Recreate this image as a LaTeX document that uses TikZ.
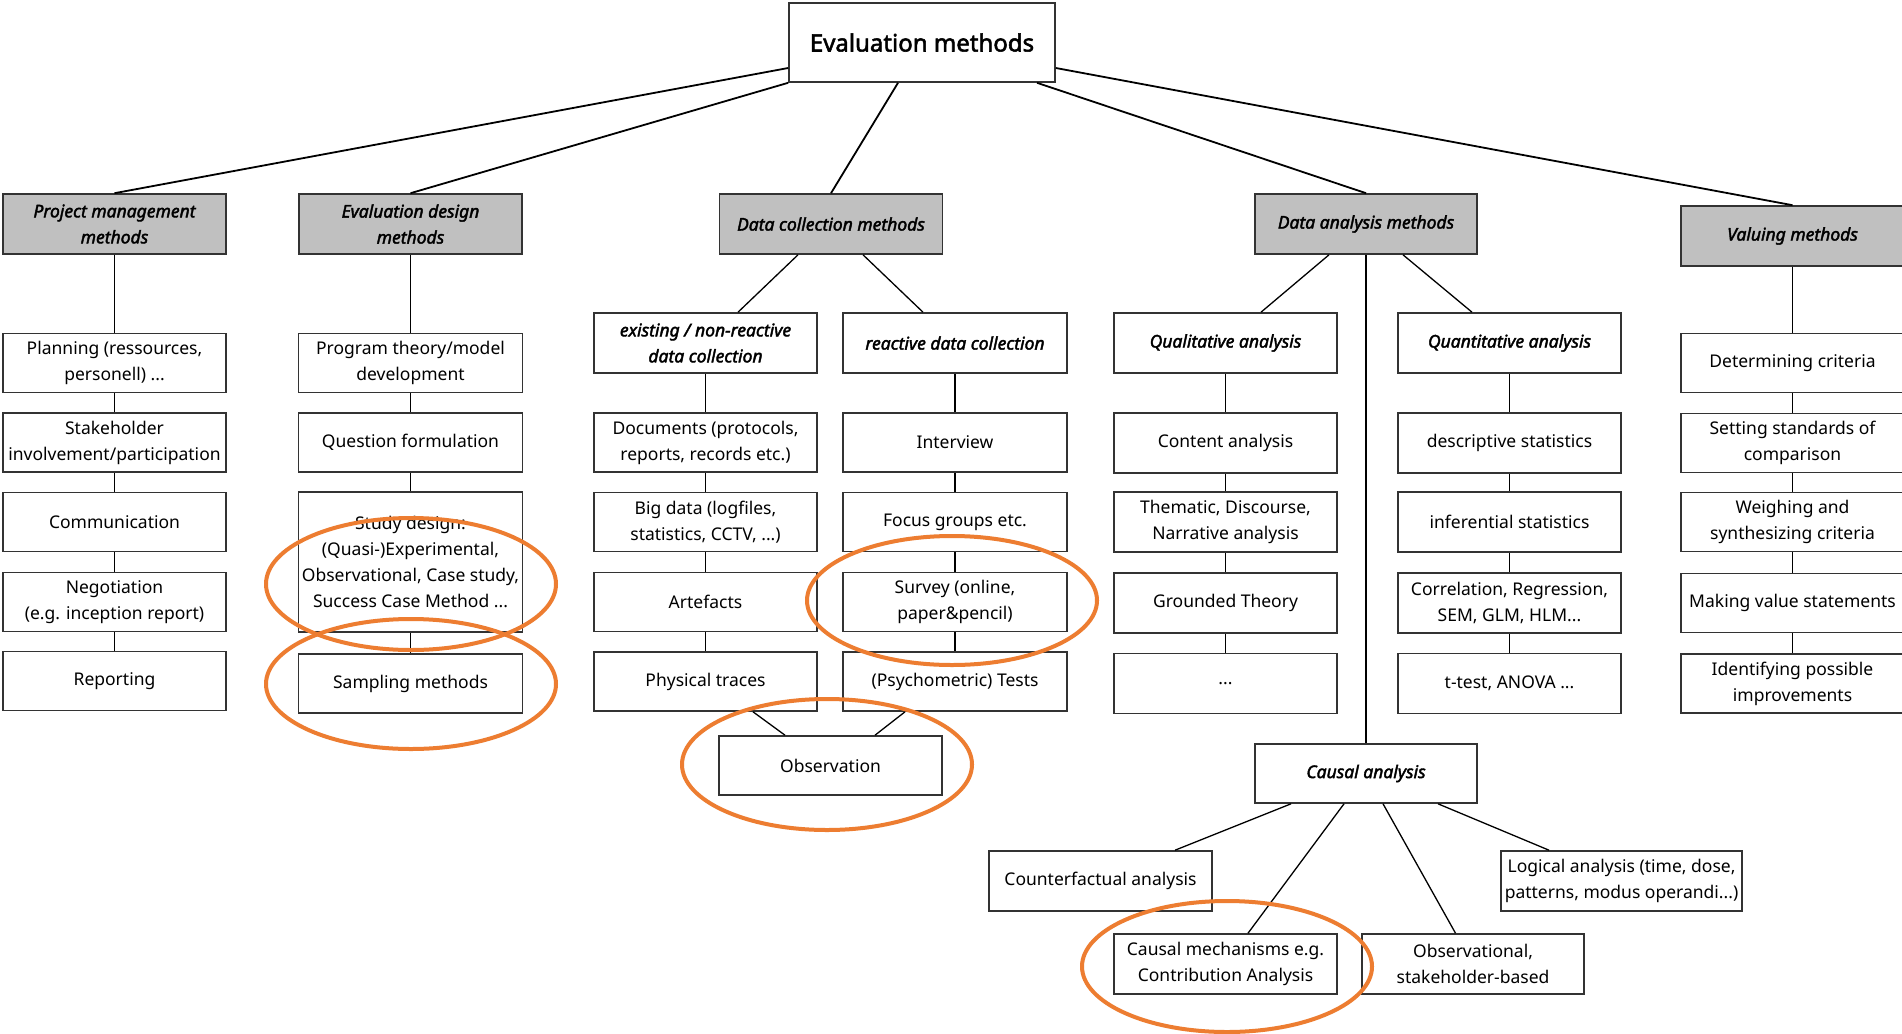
\documentclass[tikz,border=0pt]{standalone}
\usepackage{fontspec}
\setmainfont{Noto Sans}
\newfontfamily\headfont{Noto Sans}[FakeBold=2.2]
\definecolor{edge}{HTML}{333333}
\definecolor{headfill}{HTML}{C0C0C0}
\definecolor{mark}{HTML}{ED7D31}
\begin{document}
\begin{tikzpicture}[x=1pt,y=-1pt,
  item/.style={draw=edge,line width=1.6pt,fill=white,align=center,inner sep=0pt,
    minimum width=223pt,minimum height=59pt,font=\fontsize{17.5}{26}\selectfont},
  head/.style={item,fill=headfill,font=\headfont\fontsize{17.5}{26}\selectfont\itshape},
  subhead/.style={item,font=\headfont\fontsize{17.5}{26}\selectfont\itshape},
  link/.style={draw=black,line width=1.3pt},
  toplink/.style={draw=black,line width=1.8pt},
  ring/.style={draw=mark,line width=4pt}]
\fill[white] (0,0) rectangle (1902,1033);
\useasboundingbox (0,0) rectangle (1902,1033);

% root
\node[item,minimum width=266pt,minimum height=79pt,font=\headfont\fontsize{24}{30}\selectfont] (root) at (922,42.5) {Evaluation methods};

% method families
\node[head,minimum height=60pt] (pm) at (114.5,224) {Project management\\methods};
\node[head,minimum height=60pt] (ed) at (410.5,224) {Evaluation design\\methods};
\node[head,minimum height=60pt] (dc) at (831,224) {Data collection methods};
\node[head,minimum height=60pt,minimum width=222pt] (da) at (1366,224) {Data analysis methods};
\node[head,minimum height=60pt] (val) at (1792.5,236) {Valuing methods};

\draw[toplink] ([yshift=-25.5pt]root.west) -- (pm.north);
\draw[toplink] (root.south west) -- (ed.north);
\draw[toplink] ([xshift=-24pt]root.south) -- (dc.north);
\draw[toplink] ([xshift=115pt]root.south) -- (da.north);
\draw[toplink] ([yshift=-25.5pt]root.east) -- (val.north);

% project management
\node[item] (pm1) at (114.5,363) {Planning (ressources,\\personell) ...};
\node[item] (pm2) at (114.5,442.5) {Stakeholder\\involvement/participation};
\node[item] (pm3) at (114.5,522) {Communication};
\node[item] (pm4) at (114.5,602) {Negotiation\\(e.g. inception report)};
\node[item] (pm5) at (114.5,681) {Reporting};
\draw[link] (pm.south) -- (pm1.north);
\draw[link] (pm1.south) -- (pm2.north);
\draw[link] (pm2.south) -- (pm3.north);
\draw[link] (pm3.south) -- (pm4.north);
\draw[link] (pm4.south) -- (pm5.north);

% evaluation design
\node[item,minimum width=224pt] (ed1) at (410.5,363) {Program theory/model\\development};
\node[item,minimum width=224pt] (ed2) at (410.5,442.5) {Question formulation};
\node[item,minimum width=224pt,minimum height=140pt] (ed3) at (410.5,562) {Study design:\\(Quasi-)Experimental,\\Observational, Case study,\\Success Case Method ...};
\node[item,minimum width=224pt] (ed4) at (410.5,683.5) {Sampling methods};
\draw[link] (ed.south) -- (ed1.north);
\draw[link] (ed1.south) -- (ed2.north);
\draw[link] (ed2.south) -- (ed3.north);
\draw[link] (ed3.south) -- (ed4.north);

% data collection
\node[subhead,minimum height=60pt] (ex) at (705.5,343) {existing / non-reactive\\data collection};
\node[subhead,minimum height=60pt,minimum width=224pt] (re) at (955,343) {reactive data collection};
\draw[link] ([xshift=-33pt]dc.south) -- ([xshift=32.5pt]ex.north);
\draw[link] ([xshift=32pt]dc.south) -- ([xshift=-32pt]re.north);

\node[item] (ex1) at (705.5,442.5) {Documents (protocols,\\reports, records etc.)};
\node[item] (ex2) at (705.5,522) {Big data (logfiles,\\statistics, CCTV, ...)};
\node[item] (ex3) at (705.5,602) {Artefacts};
\node[item] (ex4) at (705.5,681.5) {Physical traces};
\draw[link] (ex.south) -- (ex1.north);
\draw[link] (ex1.south) -- (ex2.north);
\draw[link] (ex2.south) -- (ex3.north);
\draw[link] (ex3.south) -- (ex4.north);

\node[item,minimum width=224pt] (re1) at (955,442.5) {Interview};
\node[item,minimum width=224pt] (re2) at (955,522) {Focus groups etc.};
\node[item,minimum width=224pt] (re3) at (955,602) {Survey (online,\\paper\&pencil)};
\node[item,minimum width=224pt] (re4) at (955,681.5) {(Psychometric) Tests};
\draw[link] (re.south) -- (re1.north);
\draw[link] (re1.south) -- (re2.north);
\draw[link] (re2.south) -- (re3.north);
\draw[link] (re3.south) -- (re4.north);

\node[item] (obs) at (830.5,765.5) {Observation};
\draw[link] ([xshift=47.5pt]ex4.south) -- ([xshift=-45.5pt]obs.north);
\draw[link] ([xshift=-50pt]re4.south) -- ([xshift=44.5pt]obs.north);

% data analysis
\node[subhead,minimum height=60pt] (ql) at (1225.5,343) {Qualitative analysis};
\node[subhead,minimum height=60pt] (qn) at (1509.5,343) {Quantitative analysis};
\draw[link] ([xshift=-37pt]da.south) -- ([xshift=35.5pt]ql.north);
\draw[link] ([xshift=37pt]da.south) -- ([xshift=-37.5pt]qn.north);

\node[item,minimum height=60pt] (ql1) at (1225.5,443) {Content analysis};
\node[item,minimum height=60pt] (ql2) at (1225.5,522) {Thematic, Discourse,\\Narrative analysis};
\node[item,minimum height=60pt] (ql3) at (1225.5,603) {Grounded Theory};
\node[item,minimum height=60pt] (ql4) at (1225.5,683.5) {...};
\draw[link] (ql.south) -- (ql1.north);
\draw[link] (ql1.south) -- (ql2.north);
\draw[link] (ql2.south) -- (ql3.north);
\draw[link] (ql3.south) -- (ql4.north);

\node[item,minimum height=60pt] (qn1) at (1509.5,443) {descriptive statistics};
\node[item,minimum height=60pt] (qn2) at (1509.5,522) {inferential statistics};
\node[item,minimum height=60pt] (qn3) at (1509.5,603) {Correlation, Regression,\\SEM, GLM, HLM...};
\node[item,minimum height=60pt] (qn4) at (1509.5,683.5) {t-test, ANOVA ...};
\draw[link] (qn.south) -- (qn1.north);
\draw[link] (qn1.south) -- (qn2.north);
\draw[link] (qn2.south) -- (qn3.north);
\draw[link] (qn3.south) -- (qn4.north);

\node[subhead,minimum width=222pt] (ca) at (1366,773.5) {Causal analysis};
\draw[link] (da.south) -- (ca.north);
\node[item,minimum height=60pt] (ca1) at (1100.5,881) {Counterfactual analysis};
\node[item,minimum height=60pt,minimum width=241pt] (ca2) at (1621.5,881) {Logical analysis (time, dose,\\patterns, modus operandi...)};
\node[item,minimum height=60pt] (ca3) at (1225.5,964) {Causal mechanisms e.g.\\Contribution Analysis};
\node[item,minimum height=60pt,minimum width=222pt] (ca4) at (1473,964) {Observational,\\stakeholder-based};
\draw[link] ([xshift=-75pt]ca.south) -- ([xshift=74.5pt]ca1.north);
\draw[link] ([xshift=72pt]ca.south) -- ([xshift=-72.5pt]ca2.north);
\draw[link] ([xshift=-22pt]ca.south) -- ([xshift=22.5pt]ca3.north);
\draw[link] ([xshift=17pt]ca.south) -- ([xshift=-17.5pt]ca4.north);

% valuing
\node[item] (v1) at (1792.5,363) {Determining criteria};
\node[item] (v2) at (1792.5,443) {Setting standards of\\comparison};
\node[item] (v3) at (1792.5,522) {Weighing and\\synthesizing criteria};
\node[item] (v4) at (1792.5,603) {Making value statements};
\node[item] (v5) at (1792.5,683.5) {Identifying possible\\improvements};
\draw[link] (val.south) -- (v1.north);
\draw[link] (v1.south) -- (v2.north);
\draw[link] (v2.south) -- (v3.north);
\draw[link] (v3.south) -- (v4.north);
\draw[link] (v4.south) -- (v5.north);

% highlighted methods
\draw[ring] (411,584) ellipse [x radius=145pt,y radius=66pt];
\draw[ring] (411,684) ellipse [x radius=145pt,y radius=65pt];
\draw[ring] (952,600.5) ellipse [x radius=145pt,y radius=64.5pt];
\draw[ring] (827,764.5) ellipse [x radius=145pt,y radius=65.5pt];
\draw[ring] (1227,966.5) ellipse [x radius=145pt,y radius=65.5pt];
\end{tikzpicture}
\end{document}
